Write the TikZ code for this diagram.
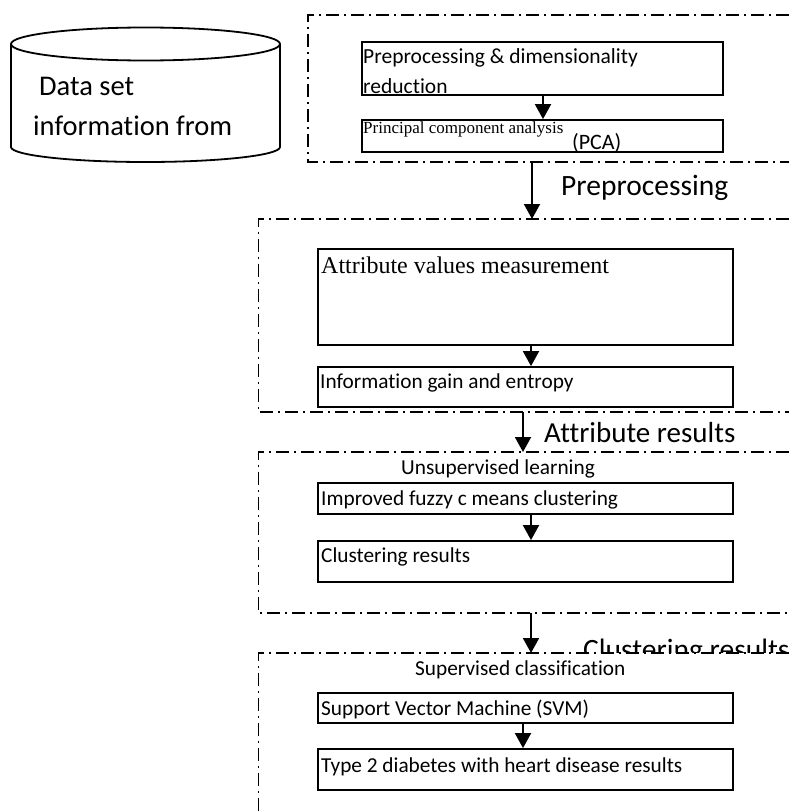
\documentclass[tikz,border=0pt]{standalone}
\usepackage{fontspec}
\setmainfont{Carlito}[Ligatures={NoCommon}]
\newfontfamily\serifx{Liberation Serif}[Ligatures={NoCommon}]
\usetikzlibrary{arrows.meta}
\tikzset{
  box/.style={draw, line width=1.8pt, rectangle, inner sep=0pt},
  dashbox/.style={line width=1.4pt, dash pattern=on 13pt off 5pt on 2pt off 5pt},
  arr/.style={line width=1.9pt, -{Triangle[width=16pt,length=15pt]}},
  txt/.style={inner sep=0pt, anchor=base west},
  small/.style={txt, font=\fontsize{21.3pt}{24pt}\selectfont},
  big/.style={txt, font=\fontsize{29.5pt}{33pt}\selectfont},
}
\begin{document}
\begin{tikzpicture}[x=1pt,y=-1pt]
\useasboundingbox (0,0) rectangle (789,811);

% cylinder
\draw[line width=1.8pt] (145.5,44) ellipse [x radius=134.5, y radius=16.5];
\draw[line width=1.8pt] (11,44) -- (11,147) arc [start angle=180, end angle=360, x radius=134.5, y radius=-15] -- (280,44);
\node[txt, font=\fontsize{28.5pt}{32pt}\selectfont] (ds1) at (39,95) {Data set};
\node[txt, font=\fontsize{28.5pt}{32pt}\selectfont] (ds2) at (33,135) {information from};

% dash-dot groups
\draw[dashbox] (789,15) -- (308,15) -- (308,162) -- (789,162);
\draw[dashbox] (789,219) -- (258.5,219) -- (258.5,412) -- (789,412);
\draw[dashbox] (789,452) -- (258.5,452) -- (258.5,613) -- (789,613);
\draw[dashbox] (789,653) -- (258.5,653) -- (258.5,811);

\coordinate (g1b) at (532,162);
\coordinate (g2t) at (532,219);
\coordinate (g2b) at (523,412);
\coordinate (g3t) at (523,452);
\coordinate (g3b) at (531,613);
\coordinate (g4t) at (531,653);

% boxes
\node[box, minimum width=361pt, minimum height=53pt] (b1) at (542.5,68.5) {};
\node[box, minimum width=361pt, minimum height=32pt] (b2) at (542.5,136) {};
\node[box, minimum width=415pt, minimum height=96pt] (b3) at (525.5,297) {};
\node[box, minimum width=415pt, minimum height=40pt] (b4) at (525.5,387) {};
\node[box, minimum width=415pt, minimum height=31pt] (b5) at (525.5,498.5) {};
\node[box, minimum width=415pt, minimum height=41pt] (b6) at (525.5,561.5) {};
\node[box, minimum width=415pt, minimum height=30pt] (b7) at (525.5,708) {};
\node[box, minimum width=415pt, minimum height=41pt] (b8) at (525.5,769.5) {};

% box texts
\node[small, font=\fontsize{21.5pt}{24pt}\selectfont] (t1a) at (363,63) {Preprocessing \& dimensionality};
\node[small, font=\fontsize{21.5pt}{24pt}\selectfont] (t1b) at (363,93) {reduction};
\node[txt, font=\serifx\fontsize{17pt}{20pt}\selectfont] (t2a) at (363,133) {Principal component analysis};
\node[txt, font=\fontsize{22pt}{24pt}\selectfont] (t2b) at (572,149) {(PCA)};
\node[txt, font=\serifx\fontsize{24pt}{27pt}\selectfont] (t3) at (321,273) {Attribute values measurement};
\node[small] (t4) at (320,388) {Information gain and entropy};
\node[small] (t5) at (321,505) {Improved fuzzy c means clustering};
\node[small] (t6) at (321,562) {Clustering results};
\node[small] (t7) at (321,715) {Support Vector Machine (SVM)};
\node[small] (t8) at (321,772) {Type 2 diabetes with heart disease results};

% group titles
\node[small] (u1) at (401,474) {Unsupervised learning};
\node[small] (u2) at (415,675) {Supervised classification};

% big labels
\node[big] (l1) at (561,195) {Preprocessing};
\node[big, font=\fontsize{29pt}{33pt}\selectfont] (l2) at (544,442) {Attribute results};
\begin{scope}
\clip (560,600) rectangle (789,652);
\node[big] (l3) at (583,659) {Clustering results};
\end{scope}

% arrows
\draw[arr] ([xshift=0.5pt]b1.south) -- ([xshift=0.5pt]b2.north);
\draw[arr] ([xshift=5.5pt]b3.south) -- ([xshift=5.5pt]b4.north);
\draw[arr] ([xshift=5.5pt]b5.south) -- ([xshift=5.5pt]b6.north);
\draw[arr] ([xshift=-2.5pt]b7.south) -- ([xshift=-2.5pt]b8.north);
\draw[arr] (g1b) -- (g2t);
\draw[arr] (g2b) -- (g3t);
\draw[arr] (g3b) -- (g4t);
\end{tikzpicture}
\end{document}
